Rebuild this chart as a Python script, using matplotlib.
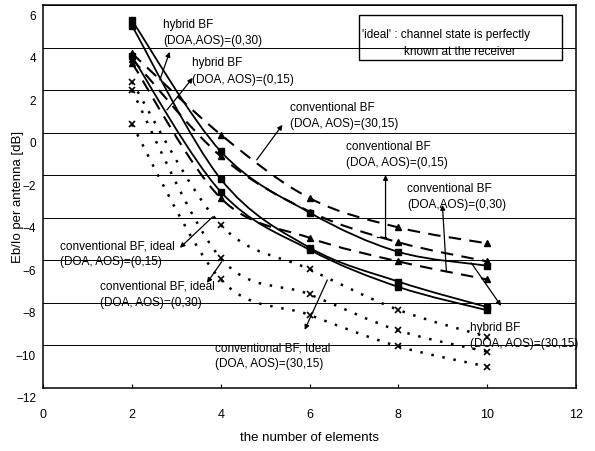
import numpy as np
import matplotlib
matplotlib.use("Agg")
import matplotlib.pyplot as plt
from matplotlib.path import Path
from matplotlib.patches import PathPatch, Rectangle
from matplotlib.transforms import ScaledTranslation

plt.rcParams['font.family'] = ['Liberation Sans', 'DejaVu Sans']

# number of elements
n_elem = [2, 4, 6, 8, 10]

# hybrid BF (solid, squares)
hyb_30_15 = [5.3, -0.87, -3.75, -5.6, -6.25]
hyb_0_30 = [5.05, -2.17, -5.4, -7.0, -8.2]
hyb_0_15 = [3.6, -2.77, -5.5, -7.25, -8.35]

# conventional BF (dashed, triangles)
conv_30_15 = [3.75, -0.08, -3.07, -4.45, -5.2]
conv_0_15 = [3.5, -1.1, -3.7, -5.15, -6.05]
conv_0_30 = [3.3, -3.07, -4.94, -6.05, -6.9]

# conventional BF, ideal (dotted, x)
ideal_0_15 = [2.4, -4.33, -6.42, -8.33, -9.6]
ideal_0_30 = [2.0, -5.9, -7.6, -9.3, -10.3]
ideal_30_15 = [0.4, -6.9, -8.57, -10.05, -11.0]

xticks = [0, 2, 4, 6, 8, 10, 12]
yticks = [-12, -10, -8, -6, -4, -2, 0, 2, 4, 6]


def smooth_path(xs, ys):
    # excel style smoothed line (catmull-rom -> bezier)
    p = np.column_stack([xs, ys]).astype(float)
    n = len(p)
    verts = [p[0]]
    codes = [Path.MOVETO]
    for i in range(n - 1):
        p0 = p[max(i - 1, 0)]
        p1 = p[i]
        p2 = p[i + 1]
        p3 = p[min(i + 2, n - 1)]
        verts += [p1 + (p2 - p0) / 6, p2 - (p3 - p1) / 6, p2]
        codes += [Path.CURVE4] * 3
    return Path(verts, codes)


fig = plt.figure(figsize=(5.95, 4.51), dpi=100)
ax = fig.add_axes([0.0723, 0.14, 0.896, 0.848])

styles = [
    (hyb_30_15, '-', 's', 1.3),
    (hyb_0_30, '-', 's', 1.3),
    (hyb_0_15, '-', 's', 1.3),
    (conv_30_15, (0, (6, 4)), '^', 1.5),
    (conv_0_15, (0, (6, 4)), '^', 1.5),
    (conv_0_30, (0, (6, 4)), '^', 1.5),
    (ideal_0_15, (0, (1, 3.5)), 'x', 1.8),
    (ideal_0_30, (0, (1, 3.5)), 'x', 1.8),
    (ideal_30_15, (0, (1, 3.5)), 'x', 1.8),
]
for ys, ls, mk, lw in styles:
    ax.add_patch(PathPatch(smooth_path(n_elem, ys), fill=False, ec='k',
                           lw=lw, ls=ls, transform=ax.transData))
    ax.plot(n_elem, ys, ls='none', marker=mk, color='k', ms=5,
            mew=1.2 if mk == 'x' else 1)

ax.set_xlim(0, 12)
ax.set_ylim(-12, 6)
ax.set_xticks(xticks)
ax.set_yticks(yticks)
ax.yaxis.grid(True, color='k', lw=0.7)
ax.set_axisbelow(True)
for s in ax.spines.values():
    s.set_linewidth(1.1)

ax.tick_params(axis='x', direction='in', length=3, pad=15, labelsize=9)
ax.tick_params(axis='y', length=0, pad=5, labelsize=8.5)
off = ScaledTranslation(0, -0.10, fig.dpi_scale_trans)
for lab in ax.get_yticklabels():
    lab.set_transform(lab.get_transform() + off)

ax.set_xlabel('the number of elements', fontsize=9.5, labelpad=8)
ax.set_ylabel('Eb/Io per antenna [dB]', fontsize=9.5)
ax.yaxis.set_label_coords(-0.036, 0.5)

# curve labels
labels = [
    ('hybrid BF\n(DOA,AOS)=(0,30)', 2.70, 5.35),
    ('hybrid BF\n(DOA, AOS)=(0,15)', 3.35, 3.55),
    ('conventional BF\n(DOA, AOS)=(30,15)', 5.55, 1.45),
    ('conventional BF\n(DOA, AOS)=(0,15)', 6.83, -0.4),
    ('conventional BF\n(DOA,AOS)=(0,30)', 8.2, -2.35),
    ('conventional BF, ideal\n(DOA, AOS)=(0,15)', 0.38, -5.05),
    ('conventional BF, ideal\n(DOA, AOS)=(0,30)', 1.28, -6.95),
    ('conventional BF, Ideal\n(DOA, AOS)=(30,15)', 3.87, -9.85),
    ('hybrid BF\n(DOA, AOS)=(30,15)', 9.6, -8.9),
]
for txt, tx, ty in labels:
    ax.text(tx, ty, txt, ha='left', va='top', fontsize=8.5, linespacing=1.45)

# arrows: tail on curve -> head at label
arrows = [
    ((2.63, 2.49), (2.85, 3.81)),
    ((2.79, 1.08), (3.37, 2.59)),
    ((4.81, -1.27), (5.39, 0.38)),
    ((7.71, -4.89), (7.71, -1.98)),
    ((9.08, -6.54), (8.99, -3.39)),
    ((9.64, -6.12), (10.31, -8.14)),
    ((3.82, -3.95), (3.08, -5.41)),
    ((4.02, -6.07), (3.69, -7.06)),
    ((6.4, -6.92), (5.89, -9.27)),
]
for tail, head in arrows:
    ax.annotate('', xy=head, xytext=tail,
                arrowprops=dict(arrowstyle='-|>', color='k', lw=0.9,
                                mutation_scale=7, shrinkA=0, shrinkB=0))
ax.plot([7.51, 7.71], [-4.89, -4.89], color='k', lw=0.9)

# note box
ax.add_patch(Rectangle((7.12, 3.44), 4.57, 2.11, fill=False, ec='k', lw=1))
ax.text(7.19, 4.61, "'ideal' : channel state is perfectly", ha='left', va='center', fontsize=8.5)
ax.text(9.39, 3.81, 'known at the receiver', ha='center', va='center', fontsize=8.5)

fig.savefig('out.png', dpi=100)
